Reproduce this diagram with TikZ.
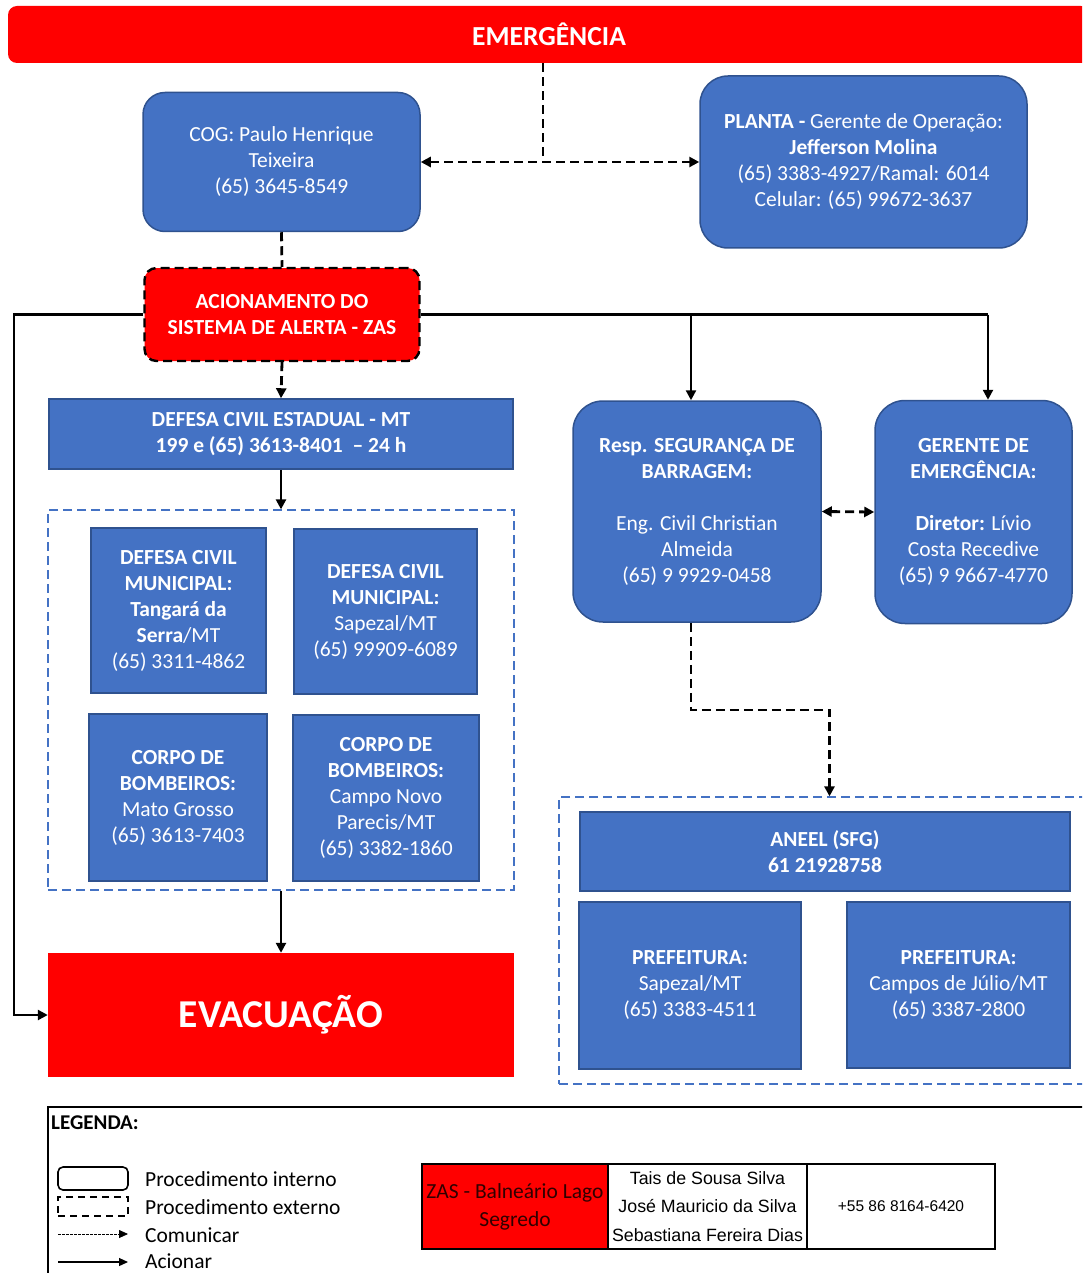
\documentclass[tikz,border=0pt]{standalone}
\usepackage{fontspec}
\setmainfont{Carlito}
\newfontfamily\arialfont{Liberation Sans}
\usetikzlibrary{arrows.meta,positioning}
\definecolor{boxblue}{HTML}{4472C4}
\definecolor{boxedge}{HTML}{2F528F}
\definecolor{alertred}{HTML}{FF0000}
\definecolor{zastext}{HTML}{300000}

\begin{document}
\begin{tikzpicture}[x=1pt, y=-1pt,
    txt/.style={font=\fontsize{21.5}{26}\selectfont, text=white, align=center, inner sep=0pt},
    bluebox/.style={txt, draw=boxedge, line width=1.5pt, fill=boxblue},
    redbox/.style={txt, fill=alertred},
    group/.style={draw=boxblue, line width=1.3pt, dash pattern=on 9pt off 5pt},
    acion/.style={line width=2.4pt, -{Triangle[length=10pt,width=10pt]}},
    comm/.style={line width=2.8pt, dash pattern=on 9pt off 5pt},
    commtip/.style={comm, -{Triangle[length=10pt,width=10pt]}},
    legtxt/.style={font=\fontsize{21.5}{24}\selectfont, anchor=west, inner sep=0pt},
    cell/.style={draw, line width=1.3pt, inner sep=0pt, minimum height=85pt, align=center},
  ]
  \path[use as bounding box, clip] (0,0) rectangle (1082,1273);

  % top bar
  \node[redbox, rounded corners=9pt, minimum width=1082pt, minimum height=57pt,
    font=\fontsize{27.5}{30}\selectfont\bfseries] (emerg) at (549,34.5) {EMERGÊNCIA};

  % first level
  \node[bluebox, rounded corners=22pt, minimum width=277pt, minimum height=139pt] (cog) at (281.5,162)
    {COG: Paulo Henrique\\Teixeira\\(65) 3645-8549};
  \node[bluebox, rounded corners=28pt, minimum width=327pt, minimum height=172pt] (planta) at (863.5,162)
    {\textbf{PLANTA -} Gerente de Operação:\\\textbf{Jefferson Molina}\\(65) 3383-4927/Ramal: 6014\\Celular: (65) 99672-3637};
  \coordinate (split) at (543,162);
  \draw[comm] (emerg.south -| split) -- (split);
  \draw[comm, {Triangle[length=10pt,width=10pt]}-{Triangle[length=10pt,width=10pt]}] (cog.east) -- (planta.west);

  % alert system
  \node[redbox, draw=black, comm, line width=2.4pt, rounded corners=12pt, minimum width=275pt, minimum height=93pt] (zas) at (282,314.5)
    {\textbf{ACIONAMENTO DO}\\\textbf{SISTEMA DE ALERTA - ZAS}};
  \draw[comm] (cog.south) -- (zas.north);

  % left branch
  \node[bluebox, minimum width=464pt, minimum height=70pt] (dcest) at (281,434)
    {\textbf{DEFESA CIVIL ESTADUAL - MT}\\\textbf{199 e (65) 3613-8401 \ – 24 h}};
  \draw[commtip] (zas.south) -- (dcest.north);
  \node[group, minimum width=466pt, minimum height=380pt] (grpleft) at (281,700) {};
  \draw[acion] (dcest.south) -- (grpleft.north);
  \node[bluebox, minimum width=175pt, minimum height=165pt] (dctang) at (178.5,610.5)
    {\textbf{DEFESA CIVIL}\\\textbf{MUNICIPAL:}\\\textbf{Tangará da}\\\textbf{Serra}/MT\\(65) 3311-4862};
  \node[bluebox, minimum width=183pt, minimum height=165pt] (dcsap) at (385.5,611.5)
    {\textbf{DEFESA CIVIL}\\\textbf{MUNICIPAL:}\\Sapezal/MT\\(65) 99909-6089};
  \node[bluebox, minimum width=178pt, minimum height=167pt] (cbmt) at (178,797.5)
    {\textbf{CORPO DE}\\\textbf{BOMBEIROS:}\\Mato Grosso\\(65) 3613-7403};
  \node[bluebox, minimum width=186pt, minimum height=166pt] (cbcn) at (386,798)
    {\textbf{CORPO DE}\\\textbf{BOMBEIROS:}\\Campo Novo\\Parecis/MT\\(65) 3382-1860};
  \node[redbox, minimum width=466pt, minimum height=124pt, font=\fontsize{39.5}{42}\selectfont\bfseries] (evac) at (281,1015)
    {EVACUAÇÃO};
  \draw[acion] (grpleft.south) -- (evac.north);
  \coordinate (lbus) at (14,314.5);
  \draw[acion] (zas.west) -- (lbus) |- (evac.west);

  % right branch
  \node[bluebox, rounded corners=30pt, minimum width=248pt, minimum height=221pt] (resp) at (697,511.5)
    {\textbf{Resp. SEGURANÇA DE}\\\textbf{BARRAGEM:}\\[26pt]Eng. Civil Christian\\Almeida\\(65) 9 9929-0458};
  \node[bluebox, rounded corners=30pt, minimum width=197pt, minimum height=223pt] (gerente) at (973.5,512)
    {\textbf{GERENTE DE}\\\textbf{EMERGÊNCIA:}\\[26pt]\textbf{Diretor:} Lívio\\Costa Recedive\\(65) 9 9667-4770};
  \coordinate (rbus) at (988,314.5);
  \coordinate (rtap) at (691,314.5);
  \draw[line width=2.4pt] (zas.east) -- (rbus);
  \draw[acion] (rbus) -- (rbus |- gerente.north);
  \draw[acion] (rtap) -- (rtap |- resp.north);
  \draw[comm, {Triangle[length=10pt,width=10pt]}-{Triangle[length=10pt,width=10pt]}] (resp.east) -- (gerente.west);
  \node[group, minimum width=541pt, minimum height=287pt] (grpright) at (829.5,940.5) {};
  \coordinate (rbend) at (691,710);
  \draw[commtip] (rtap |- resp.south) -- (rbend) -| (grpright.north);
  \node[bluebox, minimum width=490pt, minimum height=79pt] (aneel) at (825,851.5)
    {\textbf{ANEEL (SFG)}\\\textbf{61 21928758}};
  \node[bluebox, minimum width=222pt, minimum height=167pt] (prefsap) at (690,985.5)
    {\textbf{PREFEITURA:}\\Sapezal/MT\\(65) 3383-4511};
  \node[bluebox, minimum width=223pt, minimum height=166pt] (prefcj) at (958.5,985)
    {\textbf{PREFEITURA:}\\Campos de Júlio/MT\\(65) 3387-2800};

  % legend
  \draw[line width=1.2pt] (48,1300) -- (48,1107) -- (1100,1107);
  \node[legtxt, font=\fontsize{21}{24}\selectfont\bfseries] (legtitle) at (51,1123) {LEGENDA:};
  \node[draw, line width=1.6pt, rounded corners=5pt, minimum width=70pt, minimum height=23pt] (intsym) at (93,1178.5) {};
  \node[legtxt] (intlbl) at (145,1179) {Procedimento interno};
  \node[draw, line width=1.6pt, dash pattern=on 7pt off 5pt, minimum width=70pt, minimum height=19pt] (extsym) at (93,1206.5) {};
  \node[legtxt] (extlbl) at (145,1207) {Procedimento externo};
  \coordinate (com0) at (58,1234);
  \coordinate (com1) at (128,1234);
  \draw[line width=0.8pt, dash pattern=on 2.5pt off 1.5pt, -{Triangle[length=9pt,width=8pt]}] (com0) -- (com1);
  \node[legtxt] (comlbl) at (145,1235) {Comunicar};
  \coordinate (aci0) at (58,1262);
  \coordinate (aci1) at (128,1262);
  \draw[line width=1.2pt, -{Triangle[length=9pt,width=8pt]}] (aci0) -- (aci1);
  \node[legtxt] (acilbl) at (145,1261) {Acionar};

  % contact table
  \node[cell, fill=alertred, text=zastext, minimum width=186pt, font=\fontsize{21.5}{28}\selectfont] (zascell) at (515,1206.5)
    {ZAS - Balneário Lago\\Segredo};
  \node[cell, minimum width=199pt, font=\arialfont\fontsize{17.8}{28.5}\selectfont] (namecell) at (707.5,1206.5)
    {Tais de Sousa Silva\\José Mauricio da Silva\\Sebastiana Fereira Dias};
  \node[cell, minimum width=188pt, font=\arialfont\fontsize{15.5}{17}\selectfont] (phonecell) at (901,1206.5)
    {+55 86 8164-6420};
\end{tikzpicture}
\end{document}
